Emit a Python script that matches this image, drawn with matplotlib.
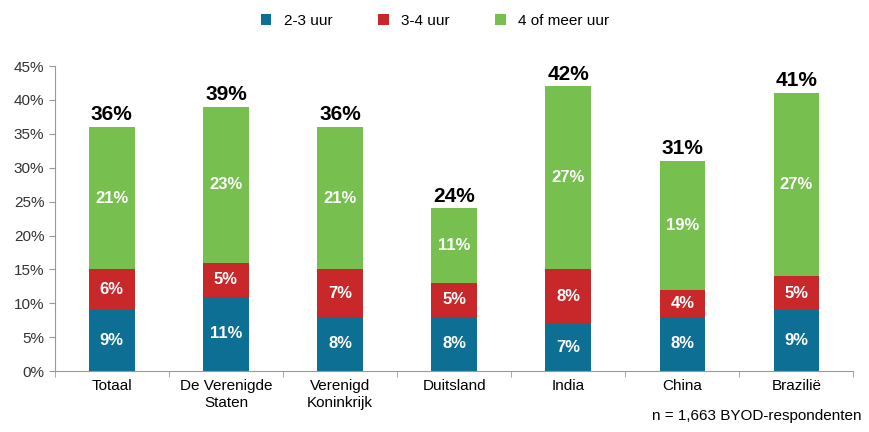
import numpy as np
import matplotlib
matplotlib.use('Agg')
import matplotlib.pyplot as plt
from matplotlib.ticker import FuncFormatter

plt.rcParams['font.family'] = ['Liberation Sans Narrow', 'Liberation Sans', 'DejaVu Sans']

# data
landen = ['Totaal', 'De Verenigde\nStaten', 'Verenigd\nKoninkrijk', 'Duitsland',
          'India', 'China', 'Brazilië']
uur_2_3 = [9, 11, 8, 8, 7, 8, 9]
uur_3_4 = [6, 5, 7, 5, 8, 4, 5]
uur_4_plus = [21, 23, 21, 11, 27, 19, 27]
totaal = [36, 39, 36, 24, 42, 31, 41]

kleuren = ['#0e6f95', '#c8282a', '#77bf4f']
labels = ['2-3 uur', '3-4 uur', '4 of meer uur']

fig = plt.figure(figsize=(8.7, 4.32), dpi=100)
ax = fig.add_axes([0.063, 0.141, 0.918, 0.706])

x = np.arange(len(landen))
w = 0.4
bottom = np.zeros(len(landen))
for serie, kleur, lab in zip([uur_2_3, uur_3_4, uur_4_plus], kleuren, labels):
    vals = np.array(serie)
    ax.bar(x, vals, w, bottom=bottom, color=kleur, label=lab)
    for xi, b, v in zip(x, bottom, vals):
        ax.text(xi, b + v / 2, f'{v}%', ha='center', va='center',
                color='white', fontsize=12, fontweight='bold')
    bottom += vals

for xi, t in zip(x, totaal):
    ax.text(xi, t + 0.4, f'{t}%', ha='center', va='bottom',
            color='black', fontsize=15, fontweight='bold')

ax.set_xlim(-0.5, len(landen) - 0.5)
ax.set_ylim(0, 45)
ax.set_yticks(np.arange(0, 46, 5))
ax.yaxis.set_major_formatter(FuncFormatter(lambda v, p: f'{int(v)}%'))
ax.set_xticks(x)
ax.set_xticklabels(landen, fontsize=11)
ax.set_xticks(np.arange(-0.5, len(landen), 1), minor=True)
ax.tick_params(axis='x', which='major', length=0, pad=6)
ax.tick_params(axis='x', which='minor', length=4, color='#999999')
ax.tick_params(axis='y', labelsize=11, length=4, color='#999999', labelcolor='#333333')
for s in ['top', 'right']:
    ax.spines[s].set_visible(False)
ax.spines['left'].set_color('#999999')
ax.spines['bottom'].set_color('#999999')

fig.legend(loc='upper center', bbox_to_anchor=(0.5, 1.0), ncol=3, frameon=False,
           fontsize=11, handlelength=0.7, handleheight=0.7, columnspacing=3)

fig.text(0.99, 0.02, 'n = 1,663 BYOD-respondenten', ha='right', va='bottom', fontsize=11)

plt.savefig('out.png', dpi=100)
